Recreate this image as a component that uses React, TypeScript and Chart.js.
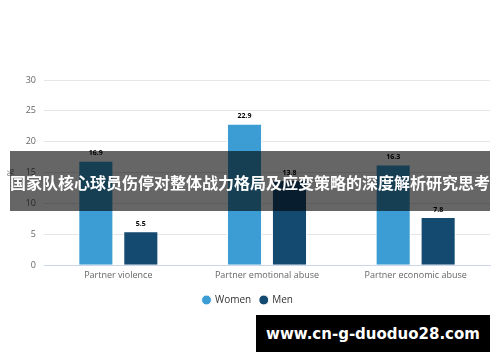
import React, { useEffect, useRef } from "react";
import { Chart, registerables } from "chart.js";

Chart.register(...registerables);

const categories = ["Partner violence", "Partner emotional abuse", "Partner economic abuse"];
const women = [16.9, 22.9, 16.3];
const men = [5.5, 13.8, 7.8];
const seriesNames = ["Women", "Men"];
const yTitle = "%";
const bannerText = "国家队核心球员伤停对整体战力格局及应变策略的深度解析研究思考";
const watermarkText = "www.cn-g-duoduo28.com";

const FONT = "'Open Sans', 'Noto Sans', sans-serif";

const valueLabels = {
  id: "valueLabels",
  afterDatasetsDraw(chart: any) {
    const ctx = chart.ctx;
    ctx.save();
    ctx.font = `bold 7px ${FONT}`;
    ctx.fillStyle = "#000000";
    ctx.textAlign = "center";
    ctx.textBaseline = "bottom";
    chart.data.datasets.forEach((ds: any, i: number) => {
      const meta = chart.getDatasetMeta(i);
      meta.data.forEach((el: any, j: number) => {
        ctx.fillText(String(ds.data[j]), el.x, el.y - 4);
      });
    });
    ctx.restore();
  },
};

export default function App() {
  const ref = useRef<HTMLCanvasElement>(null);
  useEffect(() => {
    if (!ref.current) return;
    const chart = new Chart(ref.current, {
      type: "bar",
      data: {
        labels: categories,
        datasets: [
          {
            label: seriesNames[0],
            data: women,
            backgroundColor: "#3b9dd3",
            borderColor: "#ffffff",
            borderWidth: 1,
            categoryPercentage: 0.605,
            barPercentage: 0.78,
          },
          {
            label: seriesNames[1],
            data: men,
            backgroundColor: "#154a70",
            borderColor: "#ffffff",
            borderWidth: 1,
            categoryPercentage: 0.605,
            barPercentage: 0.78,
          },
        ],
      },
      options: {
        responsive: false,
        animation: false,
        layout: { padding: { top: 80, right: 10, left: 6, bottom: 47 } },
        plugins: {
          tooltip: { enabled: false },
          legend: {
            position: "bottom",
            labels: {
              usePointStyle: true,
              pointStyle: "circle",
              boxWidth: 7,
              boxHeight: 7,
              padding: 9,
              color: "#333333",
              font: { family: FONT, size: 10 },
            },
          },
        },
        scales: {
          x: {
            grid: { display: false, drawTicks: false },
            border: { color: "#ccd6eb" },
            ticks: { color: "#666666", font: { family: FONT, size: 9 }, padding: 5 },
          },
          y: {
            min: 0,
            max: 30,
            ticks: { stepSize: 5, color: "#666666", font: { family: FONT, size: 9 }, padding: 8 },
            grid: { color: "#e6e6e6", drawTicks: false },
            border: { display: false },
            title: { display: true, text: yTitle, color: "#666666", font: { family: FONT, size: 9 }, padding: 0 },
            afterFit(scale: any) {
              scale.width = 38;
            },
          },
        },
      },
      plugins: [valueLabels],
    });
    return () => chart.destroy();
  }, []);

  return (
    <div style={{ position: "fixed", left: 0, top: 0, width: 500, height: 362, background: "#ffffff", overflow: "hidden" }}>
      <canvas ref={ref} width={500} height={362} style={{ display: "block" }} />
      <div
        style={{
          position: "absolute",
          left: 10,
          top: 151,
          width: 480,
          height: 60,
          background: "rgba(0,0,0,0.6)",
        }}
      />
      <div
        style={{
          position: "absolute",
          left: 0,
          top: 152,
          width: 500,
          height: 60,
          display: "flex",
          alignItems: "center",
          justifyContent: "center",
          color: "#ffffff",
          fontFamily: "'Noto Sans CJK SC', sans-serif",
          fontWeight: "bold",
          fontSize: 16,
          whiteSpace: "nowrap",
        }}
      >
        {bannerText}
      </div>
      <div
        style={{
          position: "absolute",
          left: 256,
          top: 315,
          width: 234,
          height: 37,
          background: "#000000",
          color: "#ffffff",
          display: "flex",
          alignItems: "center",
          justifyContent: "center",
          fontFamily: "'DejaVu Sans', sans-serif",
          fontWeight: "bold",
          fontSize: 15,
          whiteSpace: "nowrap",
        }}
      >
        {watermarkText}
      </div>
    </div>
  );
}
